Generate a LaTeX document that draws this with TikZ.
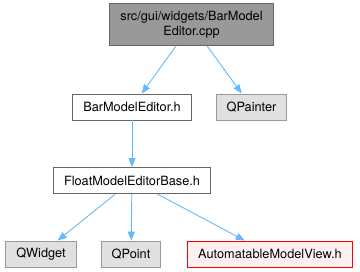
\documentclass[tikz,border=0pt]{standalone}
\usepackage{fontspec}
\setmainfont{TeX Gyre Heros}
\usepackage{tikz}
\usetikzlibrary{arrows.meta}
\definecolor{edgeblue}{HTML}{63B8FF}
\definecolor{topfill}{HTML}{999999}
\definecolor{topline}{HTML}{666666}
\definecolor{extfill}{HTML}{E0E0E0}
\definecolor{extline}{HTML}{999999}
\definecolor{redfill}{HTML}{FFF0F0}

\begin{document}
\begin{tikzpicture}[x=1pt, y=-1pt,
    filebox/.style={draw=topline, fill=white, line width=0.9pt, inner xsep=10.5pt, inner ysep=0pt,
        minimum height=26pt, font=\fontsize{12.75}{15}\selectfont},
    extbox/.style={filebox, draw=extline, fill=extfill},
    topbox/.style={filebox, fill=topfill, minimum height=42pt, align=center},
    missbox/.style={filebox, draw=red, fill=redfill},
    dep/.style={draw=edgeblue, line width=0.9pt, -{Triangle[length=9pt, width=7pt]}}]
    \useasboundingbox (0,0) rectangle (360,272);
    \node[topbox] (cpp) at (191.5, 24.5) {src/gui/widgets/BarModel\\Editor.cpp};
    \node[filebox] (editorh) at (132, 107) {BarModelEditor.h};
    \node[extbox] (qpainter) at (251.5, 107) {QPainter};
    \node[filebox] (baseh) at (132, 180.5) {FloatModelEditorBase.h};
    \node[extbox] (qwidget) at (41, 254) {QWidget};
    \node[extbox] (qpoint) at (131, 254) {QPoint};
    \node[missbox] (viewh) at (270, 254) {AutomatableModelView.h};
    \draw[dep] (cpp) -- (editorh);
    \draw[dep] (cpp) -- (qpainter);
    \draw[dep] (editorh) -- (baseh);
    \draw[dep] (baseh) -- (qwidget);
    \draw[dep] (baseh) -- (qpoint);
    \draw[dep] (baseh) -- (viewh);
\end{tikzpicture}
\end{document}
